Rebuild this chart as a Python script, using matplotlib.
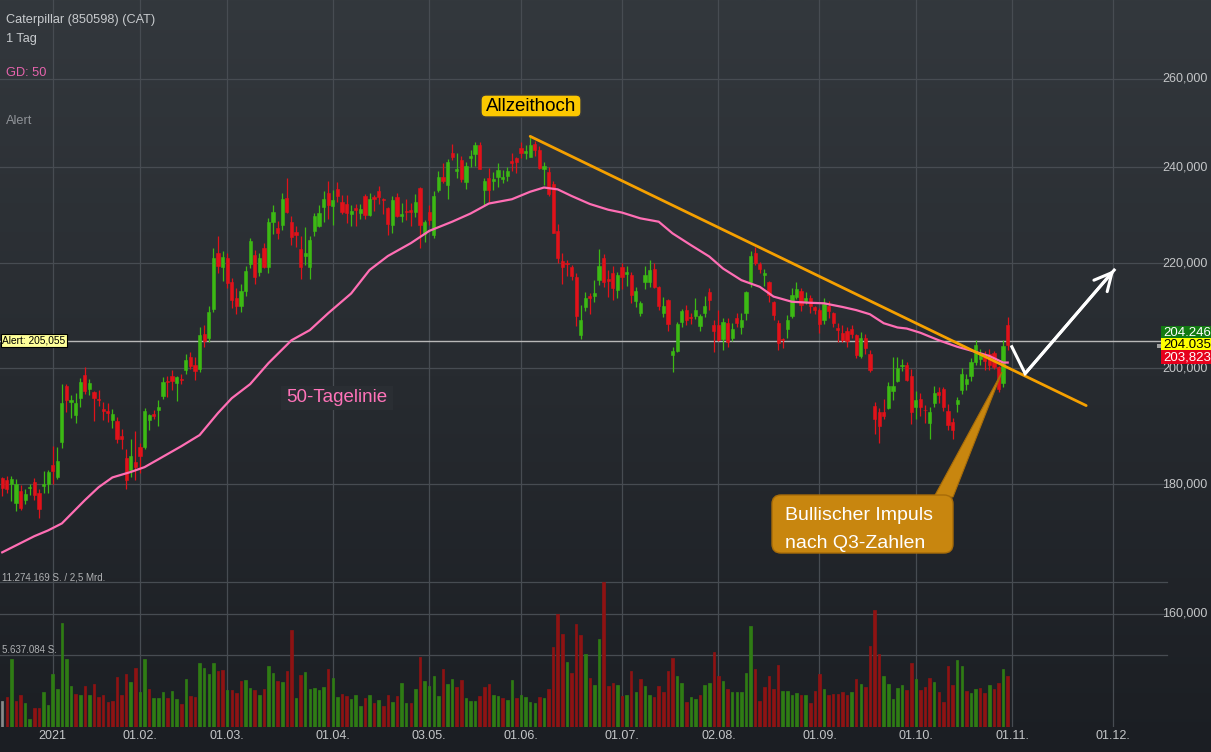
import numpy as np
import matplotlib
matplotlib.use("Agg")
import matplotlib.pyplot as plt
from matplotlib.patches import Rectangle, FancyBboxPatch, Polygon
from matplotlib.ticker import NullLocator
from matplotlib.transforms import Affine2D, blended_transform_factory

plt.rcParams['font.family'] = ['Liberation Sans', 'DejaVu Sans']

# Index 0 = 04.01.2021, ein Schritt je Handelstag
first_idx = -11

opens = [
    181.0, 180.7, 180.0, 177.0, 178.9, 177.4, 179.4, 180.4, 178.5, 179.7,
    180.1, 183.1, 181.2, 187.1, 196.8, 193.9, 191.7, 194.7, 198.7, 196.2,
    195.7, 194.5, 192.7, 192.3, 190.8, 190.7, 188.0, 184.4, 182.4, 183.6,
    186.1, 186.1, 190.8, 191.9, 192.5, 195.0, 197.6, 198.6, 197.3, 198.1,
    199.6, 202.0, 200.6, 199.8, 206.3, 205.5, 211.0, 222.0, 219.2, 221.0,
    216.2, 213.2, 211.5, 214.5, 219.8, 221.6, 218.2, 223.1, 219.2, 228.3,
    227.0, 227.7, 233.4, 228.4, 226.2, 222.9, 221.4, 219.3, 226.4, 227.5,
    231.4, 234.4, 231.6, 235.2, 232.5, 232.2, 230.1, 231.2, 230.3, 233.8,
    229.8, 233.6, 234.8, 233.2, 231.3, 227.7, 233.6, 229.6, 230.6, 230.8,
    230.4, 235.4, 225.8, 230.5, 225.7, 235.0, 237.9, 236.1, 243.2, 239.2,
    241.5, 236.7, 242.1, 242.8, 244.8, 235.1, 237.7, 237.0, 237.8, 237.5,
    238.0, 241.4, 242.1, 244.1, 243.1, 242.3, 245.1, 243.8, 239.6, 239.0,
    236.4, 226.4, 220.4, 220.0, 219.3, 217.2, 206.1, 211.4, 213.5, 213.6,
    216.6, 221.1, 216.8, 218.0, 214.7, 219.3, 217.9, 217.6, 212.6, 210.2,
    216.2, 216.3, 218.9, 215.3, 210.2, 212.7, 202.4, 203.2, 208.6, 210.9,
    209.5, 209.7, 207.8, 210.2, 214.2, 208.0, 208.0, 205.3, 208.3, 205.6,
    209.2, 207.5, 210.2, 216.2, 222.1, 219.9, 217.7, 216.3, 212.3, 208.3,
    205.4, 207.3, 209.7, 213.4, 214.5, 212.6, 213.1, 211.3, 210.9, 209.0,
    211.6, 210.2, 207.4, 206.5, 206.9, 207.3, 206.1, 202.2, 205.6, 202.6,
    193.3, 192.2, 192.2, 192.9, 195.8, 197.7, 200.3, 200.5, 198.6, 193.1,
    194.5, 192.6, 190.3, 193.8, 195.7, 196.2, 192.3, 190.5, 193.6, 196.1,
    197.2, 198.6, 201.1, 201.6, 202.2, 202.5, 202.8, 200.2, 197.3, 207.9,
]
highs = [
    181.2, 181.3, 181.3, 180.8, 179.8, 179.2, 180.0, 181.0, 179.2, 182.1,
    182.3, 186.4, 186.1, 197.2, 197.2, 195.2, 195.5, 198.2, 200.1, 198.0,
    195.8, 196.1, 194.0, 193.7, 192.7, 191.3, 189.3, 185.8, 187.6, 188.9,
    186.9, 192.9, 191.8, 192.6, 194.3, 198.4, 198.6, 199.6, 198.6, 199.0,
    202.5, 203.0, 202.0, 207.5, 208.0, 211.5, 223.0, 225.5, 222.5, 222.0,
    217.0, 215.0, 215.8, 219.5, 225.0, 222.6, 222.1, 224.0, 229.1, 231.9,
    228.6, 234.5, 237.7, 229.6, 227.6, 225.5, 227.4, 225.5, 230.3, 231.9,
    234.9, 237.0, 235.1, 236.8, 234.0, 234.1, 231.8, 232.0, 232.2, 234.2,
    234.5, 234.0, 235.9, 233.4, 231.4, 233.7, 234.5, 232.4, 233.1, 232.4,
    234.3, 235.8, 228.8, 231.9, 234.8, 239.2, 240.8, 241.8, 245.0, 243.0,
    242.5, 241.2, 243.7, 245.6, 245.6, 237.6, 239.7, 238.9, 240.8, 239.4,
    240.0, 243.2, 242.3, 245.5, 244.8, 246.7, 245.7, 244.7, 241.2, 240.0,
    237.0, 227.9, 222.0, 220.6, 219.7, 218.0, 211.7, 214.3, 214.0, 216.7,
    222.8, 221.8, 218.7, 219.4, 218.3, 220.1, 219.4, 218.2, 215.2, 212.6,
    219.4, 220.6, 220.0, 215.4, 213.4, 212.9, 203.8, 208.6, 211.1, 211.8,
    210.2, 213.2, 210.0, 213.6, 215.0, 209.0, 210.8, 209.2, 209.2, 208.4,
    210.3, 210.2, 214.5, 222.5, 223.2, 220.3, 218.9, 216.5, 212.5, 208.9,
    205.6, 209.9, 215.0, 216.2, 215.0, 214.2, 213.7, 211.6, 211.2, 213.2,
    212.5, 210.4, 208.4, 208.0, 207.6, 208.0, 206.3, 206.7, 206.3, 203.3,
    194.0, 192.8, 194.4, 197.5, 202.0, 202.1, 201.6, 201.1, 199.8, 195.8,
    195.6, 193.4, 193.0, 196.8, 196.6, 196.6, 193.6, 191.1, 194.9, 200.0,
    199.0, 201.9, 205.1, 203.5, 203.2, 203.5, 203.2, 200.4, 205.2, 209.5,
]
lows = [
    178.0, 178.6, 177.3, 175.6, 175.9, 176.8, 178.3, 177.4, 174.6, 178.6,
    178.6, 180.1, 180.9, 186.0, 192.2, 191.2, 190.2, 193.1, 195.3, 195.2,
    190.7, 193.2, 190.8, 190.5, 189.4, 186.8, 185.8, 179.2, 181.2, 180.6,
    181.8, 185.8, 189.0, 191.0, 189.7, 194.4, 194.8, 196.0, 194.1, 197.2,
    199.0, 199.8, 197.8, 199.2, 203.8, 204.8, 210.5, 218.0, 216.5, 215.0,
    211.2, 210.0, 210.5, 213.5, 219.0, 215.8, 217.4, 219.0, 218.0, 225.8,
    224.8, 226.7, 230.2, 223.6, 223.2, 216.9, 219.7, 216.8, 225.5, 227.4,
    228.4, 228.9, 227.8, 232.5, 230.0, 228.2, 227.6, 227.5, 229.0, 229.0,
    229.5, 230.7, 232.2, 230.0, 225.6, 226.0, 229.3, 228.4, 228.8, 227.5,
    229.4, 223.1, 224.3, 227.7, 225.0, 234.7, 236.5, 233.1, 241.5, 237.6,
    236.8, 235.2, 240.1, 240.3, 239.5, 231.9, 232.6, 235.1, 235.7, 236.6,
    237.0, 239.2, 238.7, 241.9, 241.7, 242.2, 242.5, 239.6, 236.2, 233.8,
    226.0, 220.0, 215.9, 217.4, 216.6, 207.8, 205.3, 210.7, 210.0, 212.4,
    215.6, 215.2, 213.4, 212.8, 213.2, 214.9, 215.4, 212.2, 211.4, 209.6,
    214.8, 215.2, 215.0, 210.8, 209.4, 206.8, 199.2, 202.9, 207.5, 208.0,
    208.2, 209.1, 206.8, 209.4, 210.9, 203.0, 205.0, 203.3, 203.8, 204.9,
    207.6, 206.2, 208.9, 215.2, 219.7, 218.1, 215.4, 212.3, 208.9, 203.3,
    203.6, 205.6, 209.2, 212.9, 210.7, 211.9, 210.3, 210.1, 206.5, 208.2,
    209.3, 207.6, 204.7, 204.7, 203.8, 205.5, 201.9, 201.8, 202.6, 199.3,
    188.3, 186.9, 191.0, 192.7, 194.3, 197.5, 199.4, 197.7, 190.1, 191.0,
    191.5, 190.2, 187.6, 193.0, 193.7, 192.4, 189.0, 187.6, 192.2, 195.3,
    196.0, 197.6, 200.5, 200.6, 199.6, 199.6, 199.9, 195.7, 196.6, 203.3,
]
closes = [
    179.4, 179.2, 180.8, 180.0, 176.2, 178.4, 179.6, 178.2, 176.0, 180.0,
    182.0, 182.1, 183.8, 193.8, 194.3, 194.3, 193.8, 197.5, 195.9, 197.3,
    194.7, 194.2, 192.4, 192.0, 191.9, 187.6, 187.6, 180.6, 184.6, 182.9,
    184.7, 192.3, 191.6, 191.4, 193.0, 197.5, 197.4, 197.6, 198.4, 197.9,
    201.4, 200.3, 199.5, 206.0, 205.0, 210.5, 221.0, 219.5, 221.2, 216.0,
    212.8, 211.5, 214.5, 218.5, 224.5, 217.3, 221.1, 219.2, 228.3, 230.4,
    226.0, 233.1, 230.4, 225.3, 225.6, 219.3, 222.1, 224.6, 229.6, 230.2,
    233.1, 231.9, 232.9, 233.8, 230.5, 230.3, 230.7, 230.8, 231.0, 229.7,
    233.1, 233.1, 233.6, 232.9, 228.0, 232.9, 229.5, 230.1, 230.4, 230.5,
    232.6, 227.8, 228.3, 228.8, 233.7, 237.9, 237.1, 241.2, 242.3, 239.5,
    237.5, 240.3, 242.4, 244.8, 239.6, 236.9, 235.1, 237.5, 239.3, 237.9,
    239.2, 241.0, 241.1, 243.0, 243.5, 244.9, 243.8, 239.8, 240.2, 234.3,
    226.1, 221.0, 219.3, 219.8, 217.4, 209.6, 209.0, 213.2, 213.2, 214.0,
    219.4, 216.3, 216.5, 215.0, 217.6, 217.2, 218.2, 213.8, 214.4, 212.2,
    217.6, 218.7, 215.3, 211.6, 211.5, 208.1, 203.2, 208.1, 210.6, 209.0,
    209.3, 210.9, 209.7, 211.6, 212.7, 206.9, 205.2, 208.5, 204.7, 207.3,
    208.4, 209.0, 214.2, 221.5, 220.1, 218.8, 218.0, 213.7, 209.8, 204.6,
    205.2, 209.0, 213.8, 214.9, 211.7, 213.1, 211.5, 210.9, 208.1, 212.0,
    210.6, 208.4, 207.1, 205.2, 204.9, 206.3, 202.4, 205.6, 203.6, 199.6,
    190.9, 189.8, 191.5, 196.7, 196.8, 200.0, 200.6, 197.9, 192.2, 194.3,
    193.1, 192.5, 192.1, 195.6, 195.1, 193.1, 190.0, 189.1, 194.3, 198.9,
    198.1, 201.1, 204.2, 202.5, 201.3, 200.6, 200.1, 196.2, 204.0, 204.2,
]
# Umsatz in Mio. Stueck
volumes = [
    2.05, 2.31, 5.26, 2.05, 2.46, 1.84, 0.60, 1.50, 1.50, 2.72,
    1.68, 4.10, 2.93, 8.06, 5.29, 3.19, 2.57, 2.46, 3.19, 2.46,
    3.32, 2.36, 2.49, 1.97, 2.00, 3.86, 2.49, 4.10, 3.47, 4.56,
    2.75, 5.29, 2.98, 2.26, 2.26, 2.72, 2.28, 2.83, 2.18, 1.79,
    3.73, 2.41, 2.36, 4.95, 4.59, 4.12, 4.95, 4.33, 4.46, 2.88,
    2.85, 2.64, 3.55, 3.63, 3.06, 2.90, 2.46, 2.95, 4.77, 4.22,
    3.55, 3.53, 4.35, 7.54, 2.23, 4.02, 4.25, 2.93, 3.03, 2.88,
    3.11, 4.48, 3.81, 2.31, 2.57, 2.44, 2.15, 2.46, 1.66, 2.28,
    2.49, 1.84, 2.10, 1.66, 2.46, 1.97, 2.41, 3.45, 1.84, 1.89,
    2.93, 5.42, 3.55, 3.19, 3.97, 2.41, 4.48, 3.32, 3.73, 3.14,
    3.63, 2.23, 2.02, 2.02, 2.38, 3.14, 3.32, 2.49, 2.38, 2.28,
    2.10, 3.63, 2.28, 2.49, 2.36, 1.92, 1.84, 2.33, 2.23, 2.93,
    6.25, 8.76, 7.21, 5.08, 4.17, 8.01, 7.15, 5.65, 3.78, 3.29,
    6.84, 11.27, 3.19, 3.40, 3.24, 2.44, 2.46, 4.35, 2.72, 3.71,
    3.19, 2.49, 2.36, 3.19, 2.75, 4.38, 5.39, 3.97, 3.40, 1.92,
    2.31, 2.18, 2.46, 3.27, 3.42, 5.86, 3.99, 3.60, 2.93, 2.70,
    2.70, 2.75, 4.20, 7.83, 4.48, 2.05, 3.14, 3.99, 2.93, 4.80,
    2.77, 2.83, 2.49, 2.62, 2.49, 2.49, 1.89, 2.83, 4.12, 2.93,
    2.49, 2.59, 2.59, 2.72, 2.51, 2.70, 3.73, 3.32, 3.08, 6.32,
    9.10, 5.68, 3.94, 3.37, 2.18, 3.01, 3.24, 2.90, 4.95, 3.71,
    2.85, 3.08, 3.78, 3.50, 2.70, 1.97, 4.72, 3.24, 5.21, 4.74,
    2.80, 2.62, 2.93, 3.06, 2.62, 3.29, 2.93, 3.40, 4.48, 3.94,
]
# g = Plus, r = Minus, x = ohne Vergleich
vol_dirs = ("xrgrrggrrggggggg" "rgrgrrrrrrrrgrgg" "rgggrggrgrrggggr"
            "rgrrrggrgrggrgrr" "grgggggrggrrgggr" "grgrrgr"
            "ggrgrggggrggrrgg" "grrrggrggrggggrg" "rrrrgrrrgrggrrrg"
            "rgrgrggrrrrrggrg" "grggrrgrgggggrrr" "rrrgggg"
            "rgrrrgrrrrrgrgrr" "rrgggggrrgrrrgrr" "rrggrggrrgrrgr")
vol_max = 11.274169

# 50-Tage-Linie
ma_idx = [-11, -4, -1, 2, 7, 10, 13, 17, 20, 23, 28, 32, 36, 39, 43, 47, 52,
          56, 60, 65, 69, 73, 78, 82, 87, 91, 95, 100, 104, 107, 110, 113,
          117, 121, 124, 128, 132, 135, 139, 143, 146, 150, 154, 157, 161,
          165, 168, 172, 175, 178, 181, 184, 186, 189, 193, 197, 200, 204,
          207, 208]
ma_vals = [169.2, 171.7, 172.6, 173.7, 177.4, 179.5, 181.1, 182.0, 182.8,
           184.1, 186.3, 188.2, 192.0, 194.6, 197.1, 200.9, 205.1, 207.0,
           210.2, 214.0, 218.6, 221.4, 224.0, 226.5, 228.4, 230.1, 232.2,
           233.1, 234.7, 235.6, 235.2, 233.8, 232.1, 230.9, 230.3, 229.1,
           228.4, 226.0, 223.6, 221.3, 218.9, 216.6, 215.3, 213.4, 212.4,
           212.2, 212.1, 211.4, 210.8, 210.0, 208.3, 207.5, 207.3, 206.5,
           205.1, 203.9, 203.2, 202.2, 201.0, 201.0]

tick_idx = [0, 19, 38, 61, 82, 102, 124, 145, 167, 188, 209, 231]
tick_labels = ["2021", "01.02.", "01.03.", "01.04.", "03.05.", "01.06.",
               "01.07.", "02.08.", "01.09.", "01.10.", "01.11.", "01.12."]
price_ticks = [160, 180, 200, 220, 240, 260]
alert_level = 205.055

trend_x = [104.0, 225.1]
trend_y = [246.8, 193.3]
arrow_x = [208.9, 211.8, 231.2]
arrow_y = [203.9, 199.0, 218.6]

GREEN, RED = '#3cb914', '#e1121a'
VGREEN, VRED, VGRAY = '#2f7c14', '#8e1313', '#8a8a8a'
GRID = '#474c52'
PINK = '#ff6eb4'
ORANGE = '#f5a000'

W, H = 1211, 752
fig = plt.figure(figsize=(W / 100, H / 100), dpi=100)
pix = Affine2D().scale(1, -1).translate(0, H)   # Pixel, oben links


def box(x0, y0, w, h):
    return [x0 / W, 1 - (y0 + h) / H, w / W, h / H]


# Hintergrund mit Verlauf
bg = fig.add_axes([0, 0, 1, 1], zorder=-10)
top = np.array([51, 56, 61]) / 255
bot = np.array([27, 30, 35]) / 255
t = np.linspace(0, 1, 256)[:, None]
grad = top + (bot - top) * t
bg.imshow(grad[:, None, :], aspect='auto', extent=[0, 1, 0, 1])
bg.axis('off')

ax = fig.add_axes(box(0, 0, 1167, 727), zorder=1)
ax.set_facecolor('none')
ax.set_yscale('log')
ax.set_ylim(144.4, 279.3)
ax.set_xlim(-11.48, 242.7)
ax.set_yticks(price_ticks)
ax.yaxis.set_minor_locator(NullLocator())
ax.set_yticklabels([])
ax.set_xticks(tick_idx)
ax.set_xticklabels(tick_labels, color='#c4c6c8', fontsize=9)
ax.tick_params(axis='both', length=0)
ax.tick_params(axis='x', pad=2.3)
ax.grid(True, color=GRID, lw=0.9)
ax.set_axisbelow(True)
for s in ax.spines.values():
    s.set_visible(False)

x = np.arange(first_idx, first_idx + len(opens))
o, h, l, c = (np.array(v) for v in (opens, highs, lows, closes))
cols = np.where(c >= o, GREEN, RED)
ax.vlines(x, l, h, colors=cols, lw=0.9, zorder=3)
ax.bar(x, np.abs(c - o), bottom=np.minimum(o, c), width=0.7, color=cols,
       edgecolor=cols, lw=0.4, zorder=4)

ax.plot(ma_idx, ma_vals, color=PINK, lw=1.6, zorder=5)
ax.axhline(alert_level, color='#b8b8b8', lw=1, zorder=2)
ax.plot(trend_x, trend_y, color=ORANGE, lw=2, zorder=6, solid_capstyle='round')
ax.plot(arrow_x, arrow_y, color='white', lw=2.2, zorder=7, solid_joinstyle='miter')
ax.annotate('', xy=(arrow_x[2], arrow_y[2]), xytext=(arrow_x[1], arrow_y[1]),
            arrowprops=dict(arrowstyle='->,head_length=0.7,head_width=0.35',
                            color='white', lw=2.2, mutation_scale=18,
                            shrinkA=0, shrinkB=0), zorder=7)

# Preisskala rechts
ytr = blended_transform_factory(fig.transFigure, ax.transData)
for p in price_ticks:
    ax.text(1162 / W, p, f"{p},000", transform=ytr, ha='left', va='center',
            color='#c4c6c8', fontsize=9, zorder=8)

ax.text(0.002, alert_level, "Alert: 205,055", transform=blended_transform_factory(ax.transAxes, ax.transData),
        ha='left', va='center', fontsize=7.3, color='black', zorder=9,
        bbox=dict(boxstyle='square,pad=0.18', fc='#ffff99', ec='black', lw=0.8))

# Umsatz
vax = fig.add_axes(box(0, 582, 1167, 145), zorder=2)
vax.set_facecolor('none')
vax.set_xlim(ax.get_xlim())
vax.set_ylim(0, vol_max)
vax.axis('off')
vmap = {'g': VGREEN, 'r': VRED, 'x': VGRAY}
vcols = [vmap[d] for d in vol_dirs]
vax.bar(x, volumes, width=0.55, color=vcols, edgecolor=vcols, lw=0.5)
for lv in (vol_max, vol_max / 2):
    vax.axhline(lv, color=GRID, lw=0.9, clip_on=False, zorder=0)

# Texte oben links
tc = '#c8cbce'
fig.text(6, 20, "Caterpillar (850598) (CAT)", transform=pix, color=tc, fontsize=9.2, va='center')
fig.text(6, 39, "1 Tag", transform=pix, color=tc, fontsize=9.2, va='center')
fig.text(6, 73, "GD: 50", transform=pix, color='#e764ad', fontsize=9.2, va='center')
fig.text(6, 121, "Alert", transform=pix, color='#8e9297', fontsize=9.2, va='center')
fig.text(2, 577, "11.274.169 S. / 2,5 Mrd.", transform=pix, color='#b0b2b4', fontsize=7, va='center')
fig.text(2, 650, "5.637.084 S.", transform=pix, color='#b0b2b4', fontsize=7, va='center')

# Allzeithoch
fig.add_artist(FancyBboxPatch((481, 95), 100, 22, boxstyle='round,pad=0,rounding_size=5',
                              transform=pix, fc='#fcc800', ec='#3a3a3a', lw=1, zorder=10))
fig.text(531, 106.5, "Allzeithoch", transform=pix, ha='center', va='center',
         fontsize=13.5, color='black', zorder=11)

# 50-Tagelinie
fig.add_artist(Rectangle((281, 386), 112, 24, transform=pix, fc='#2a2e33', ec='none', zorder=10))
fig.text(337, 398, "50-Tagelinie", transform=pix, ha='center', va='center',
         fontsize=13.5, color='#ff73b9', zorder=11)

# Sprechblase
fig.add_artist(Polygon([(934, 497), (953, 497), (1002, 372)], closed=True, transform=pix,
                       fc='#c8860f', ec='#a86c08', lw=0.8, zorder=10))
fig.add_artist(FancyBboxPatch((772, 495), 181, 58, boxstyle='round,pad=0,rounding_size=9',
                              transform=pix, fc='#c8860f', ec='#a86c08', lw=1, zorder=10))
fig.text(785, 516, "Bullischer Impuls", transform=pix, ha='left', va='center',
         fontsize=14, color='white', zorder=11)
fig.text(785, 543, "nach Q3-Zahlen", transform=pix, ha='left', va='center',
         fontsize=14, color='white', zorder=11)

# Kurskaesten rechts
fig.add_artist(Rectangle((1157, 344), 4, 4, transform=pix, fc='#a0a0a0', ec='none', zorder=10))
for y0, hh, fc, tcol, txt in [(326, 12, '#127a12', 'white', "204.246"),
                               (338, 12, '#ffff00', 'black', "204.035"),
                               (350, 14, '#e6001c', 'white', "203,823")]:
    fig.add_artist(Rectangle((1161, y0), 50, hh, transform=pix, fc=fc, ec='none', zorder=12))
    fig.text(1163, y0 + hh / 2 + 0.5, txt, transform=pix, ha='left', va='center',
             fontsize=9.5, color=tcol, zorder=13)

fig.savefig('out.png', dpi=100)
